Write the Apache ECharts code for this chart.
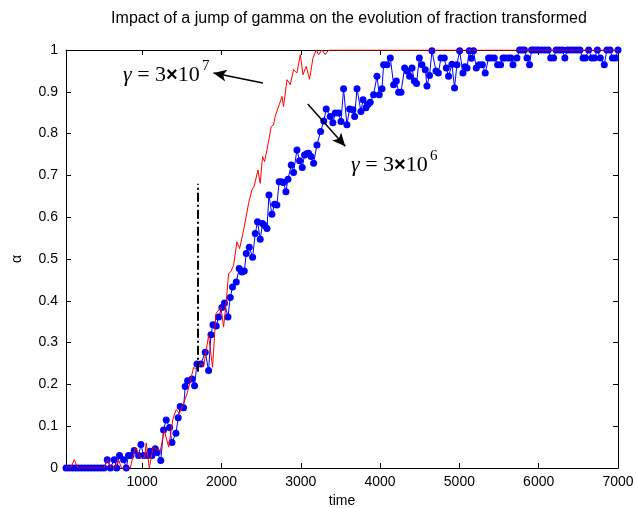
<!DOCTYPE html>
<html>
<head>
<meta charset="utf-8">
<script src="https://cdn.jsdelivr.net/npm/echarts@6/dist/echarts.min.js"></script>
<style>
  html, body { margin: 0; padding: 0; background: #fff; }
  #chart { width: 637px; height: 508px; }
</style>
</head>
<body>
<div id="chart"></div>
<script>
// gamma = 3e6 run (blue dots)
var blueTime = [
  40,80,120,160,200,240,280,320,360,400,
  440,480,520,560,600,648,680,715,766,800,
  828,859,900,955,985,1018,1068,1100,1124,1165,
  1190,1235,1270,1304,1346,1376,1426,1455,1480,1522,
  1543,1573,1628,1661,1691,1741,1796,1838,1868,1893,
  1934,1964,2006,2039,2082,2111,2140,2187,2224,2258,
  2288,2313,2351,2393,2426,2455,2489,2518,2545,2574,
  2599,2636,2670,2699,2728,2755,2783,2813,2839,2880,
  2909,2952,2985,3019,3048,3075,3098,3130,3162,3204,
  3250,3290,3321,3372,3405,3435,3477,3507,3540,3582,
  3616,3658,3679,3709,3759,3785,3822,3850,3876,3918,
  3961,3990,4024,4045,4087,4129,4171,4205,4234,4264,
  4310,4340,4373,4403,4432,4460,4495,4528,4570,4591,
  4624,4654,4705,4735,4768,4810,4835,4864,4906,4939,
  4969,5003,5045,5070,5096,5125,5150,5179,5213,5250,
  5290,5326,5368,5400,5440,5482,5520,5550,5579,5620,
  5650,5676,5726,5759,5790,5820,5852,5885,5910,5935,
  5970,6000,6040,6080,6120,6152,6188,6220,6260,6300,
  6330,6360,6400,6440,6480,6520,6559,6590,6630,6670,
  6704,6740,6777,6827,6860,6900,6930,6970,7000
];
var blueAlpha = [
  0,0,0,0,0,0,0,0,0,0,
  0,0,0,0.02,0,0.02,0,0.03,0.02,0,
  0.03,0.03,0.042,0.03,0.056,0.03,0.03,0.04,0.03,0.046,
  0.037,0.018,0.091,0.115,0.097,0.061,0.083,0.12,0.147,0.144,
  0.195,0.209,0.213,0.197,0.249,0.249,0.277,0.233,0.319,0.343,
  0.34,0.361,0.384,0.395,0.361,0.408,0.433,0.445,0.477,0.469,
  0.471,0.513,0.528,0.504,0.561,0.589,0.547,0.585,0.58,0.573,
  0.653,0.607,0.631,0.629,0.685,0.685,0.683,0.661,0.691,0.725,
  0.707,0.761,0.735,0.719,0.749,0.752,0.753,0.745,0.729,0.773,
  0.805,0.83,0.859,0.841,0.826,0.849,0.849,0.829,0.907,0.821,
  0.859,0.857,0.841,0.907,0.853,0.881,0.862,0.87,0.875,0.893,
  0.937,0.893,0.907,0.965,0.965,0.981,0.917,0.926,0.899,0.899,
  0.957,0.95,0.937,0.957,0.926,0.92,0.981,0.965,0.953,0.914,
  0.939,0.998,0.95,0.945,0.981,0.981,0.957,0.937,0.966,0.909,
  0.965,0.998,0.945,0.96,0.957,0.998,0.98,0.998,0.957,0.965,
  0.965,0.945,0.981,0.981,0.981,0.965,0.965,0.981,0.981,0.981,
  0.981,0.965,0.981,1,1,1,0.981,0.965,1,1,
  1,1,1,1,1,0.981,0.981,1,1,1,
  0.981,1,1,1,1,1,0.981,0.981,1,0.981,
  0.981,1,0.981,0.965,1,1,0.981,0.981,1
];

// gamma = 3e7 run (red line)
var redTime = [
  40,100,144,190,520,564,610,660,702,740,
  850,913,976,1030,1052,1090,1140,1180,1228,1279,
  1334,1388,1430,1470,1525,1570,1610,1649,1690,1741,
  1775,1838,1888,1930,1993,2027,2056,2090,2120,2153,
  2195,2229,2279,2310,2342,2384,2414,2460,2489,2518,
  2544,2574,2628,2657,2678,2729,2763,2783,2826,2868,
  2909,2952,2994,3028,3069,3111,3154,3195,3225,3267,
  3309,3351,7000
];
var redAlpha = [
  0,0,0.02,0,0,0.02,0,0,0.02,0,
  0,0.05,0.025,0.025,0.06,0,0.05,0.045,0.04,0.09,
  0.05,0.117,0.14,0.13,0.155,0.18,0.21,0.241,0.235,0.25,
  0.243,0.317,0.241,0.369,0.385,0.337,0.389,0.465,0.47,0.485,
  0.541,0.525,0.569,0.6,0.633,0.665,0.675,0.713,0.681,0.745,
  0.733,0.761,0.817,0.821,0.842,0.869,0.889,0.865,0.929,0.917,
  0.953,0.945,0.989,0.941,0.961,0.93,0.981,1,0.989,1,
  0.989,1,1
];

var xTicks = [1000, 2000, 3000, 4000, 5000, 6000, 7000];
var jumpTime = 1700;
var jumpRange = [0.23, 0.68];

function zip(xs, ys) {
  return xs.map(function (x, i) { return [x, ys[i]]; });
}

var font = "'Liberation Sans', Arial, sans-serif";
var serif = "'Liberation Serif', 'Times New Roman', serif";
var chart = echarts.init(document.getElementById('chart'), null, { renderer: 'canvas' });

var axisCommon = {
  axisLine: { show: true, onZero: false, lineStyle: { color: '#000', width: 1 } },
  axisTick: { show: true, inside: true, length: 5, lineStyle: { color: '#000' } },
  splitLine: { show: false }
};

var gammaRich = {
  i: { fontFamily: serif, fontSize: 22, fontStyle: 'italic', fill: '#000' },
  n: { fontFamily: serif, fontSize: 22, fill: '#000' },
  b: { fontFamily: font, fontSize: 20, fontWeight: 'bold', fill: '#000' }
};

var option = {
  animation: false,
  backgroundColor: '#fff',
  title: {
    text: 'Impact of a jump of gamma on the evolution of fraction transformed',
    left: 344,
    top: 6,
    textAlign: 'center',
    textStyle: { fontFamily: font, fontSize: 16, fontWeight: 'normal', color: '#000' }
  },
  grid: { left: 66, right: 19, top: 50, bottom: 40, outerBoundsMode: 'none', containLabel: false },
  xAxis: [
    Object.assign({}, axisCommon, {
      type: 'value', position: 'bottom', min: 40, max: 7000,
      name: 'time', nameLocation: 'middle', nameGap: 22,
      nameTextStyle: { fontFamily: font, fontSize: 14, color: '#000' },
      axisTick: Object.assign({}, axisCommon.axisTick, { customValues: xTicks }),
      axisLabel: {
        customValues: xTicks, color: '#000', fontFamily: font, fontSize: 14, margin: 7,
        formatter: function (v) { return String(v); }
      }
    }),
    Object.assign({}, axisCommon, {
      type: 'value', position: 'top', min: 40, max: 7000,
      axisTick: Object.assign({}, axisCommon.axisTick, { customValues: xTicks }),
      axisLabel: { show: false }
    })
  ],
  yAxis: [
    Object.assign({}, axisCommon, {
      type: 'value', position: 'left', min: 0, max: 1, interval: 0.1,
      name: 'α', nameLocation: 'middle', nameGap: 42, nameRotate: 90,
      nameTextStyle: { fontFamily: font, fontSize: 14, color: '#000' },
      axisLabel: { color: '#000', fontFamily: font, fontSize: 14, margin: 8 }
    }),
    Object.assign({}, axisCommon, {
      type: 'value', position: 'right', min: 0, max: 1, interval: 0.1,
      axisLabel: { show: false }
    })
  ],
  series: [
    {
      name: 'gamma 3e6',
      type: 'line',
      data: zip(blueTime, blueAlpha),
      symbol: 'circle',
      symbolSize: 7,
      showSymbol: true,
      itemStyle: { color: '#0000ff' },
      lineStyle: { color: '#0000ff', width: 1 },
      z: 2
    },
    {
      name: 'gamma 3e7',
      type: 'line',
      data: zip(redTime, redAlpha),
      showSymbol: false,
      symbol: 'none',
      lineStyle: { color: '#ff0000', width: 1 },
      z: 3,
      markLine: {
        silent: true,
        animation: false,
        symbol: ['none', 'arrow'],
        symbolSize: [9, 13],
        label: { show: false },
        lineStyle: { color: '#000', width: 1.5, type: 'solid' },
        data: [
          [{ coord: [2523, 0.921] }, { coord: [1900, 0.945] }],
          [{ coord: [3088, 0.871] }, { coord: [3561, 0.770] }],
          [
            { coord: [jumpTime, jumpRange[0]], symbol: 'none', lineStyle: { type: [9, 3, 2, 3], width: 2 } },
            { coord: [jumpTime, jumpRange[1]], symbol: 'none' }
          ]
        ]
      }
    }
  ],
  graphic: [
    {
      type: 'text', x: 123, y: 75,
      style: { text: '{i|γ}{n| = 3}{b|×}{n|10}', verticalAlign: 'middle', fill: '#000', rich: gammaRich }
    },
    {
      type: 'text', x: 202, y: 66,
      style: { text: '7', fontFamily: serif, fontSize: 15, verticalAlign: 'middle', fill: '#000' }
    },
    {
      type: 'text', x: 351, y: 165,
      style: { text: '{i|γ}{n| = 3}{b|×}{n|10}', verticalAlign: 'middle', fill: '#000', rich: gammaRich }
    },
    {
      type: 'text', x: 430, y: 156,
      style: { text: '6', fontFamily: serif, fontSize: 15, verticalAlign: 'middle', fill: '#000' }
    }
  ]
};

chart.setOption(option);
</script>
</body>
</html>
